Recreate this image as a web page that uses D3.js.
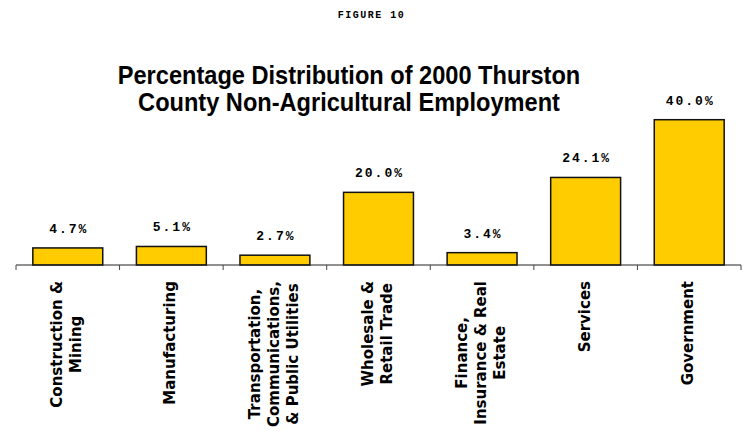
<!DOCTYPE html>
<html>
<head>
<meta charset="utf-8">
<script src="https://cdn.jsdelivr.net/npm/d3@7"></script>
<style>
  html, body { margin: 0; padding: 0; background: #fff; }
  svg { display: block; }
</style>
</head>
<body>
<svg id="chart" width="743" height="431"></svg>
<script>
// Employment shares by industry, Thurston County, 2000
const categories = [
  ["Construction &", "Mining"],
  ["Manufacturing"],
  ["Transportation,", "Communications,", "& Public Utilities"],
  ["Wholesale &", "Retail Trade"],
  ["Finance,", "Insurance & Real", "Estate"],
  ["Services"],
  ["Government"]
];
const shares = [4.7, 5.1, 2.7, 20.0, 3.4, 24.1, 40.0];
const figureLabel = "FIGURE 10";
const titleLines = [
  "Percentage Distribution of 2000 Thurston",
  "County Non-Agricultural Employment"
];

const svg = d3.select("#chart");
const keys = categories.map(c => c.join(" "));

const x = d3.scaleBand()
  .domain(keys)
  .range([16, 741])
  .paddingInner(0.325)
  .paddingOuter(0.1625);

const y = d3.scaleLinear()
  .domain([0, 40])
  .range([265, 119.7]);

// Header
svg.append("text")
  .attr("x", 371.5).attr("y", 18)
  .attr("text-anchor", "middle")
  .style("font-family", "'Liberation Mono', 'Courier New', monospace")
  .style("font-weight", "bold")
  .style("font-size", "10px")
  .style("letter-spacing", "1.5px")
  .text(figureLabel);

// Title, slightly condensed
svg.append("g")
  .attr("transform", "translate(349,0) scale(0.89,1)")
  .selectAll("text")
  .data(titleLines)
  .join("text")
  .attr("x", 0)
  .attr("y", (d, i) => 84 + i * 27)
  .attr("text-anchor", "middle")
  .style("font-family", "'Liberation Sans', Arial, sans-serif")
  .style("font-weight", "bold")
  .style("font-size", "26.5px")
  .style("fill", "#000")
  .text(d => d);

// Bars
svg.append("g")
  .selectAll("rect")
  .data(shares)
  .join("rect")
  .attr("x", (d, i) => x(keys[i]))
  .attr("y", d => y(d))
  .attr("width", x.bandwidth())
  .attr("height", d => y(0) - y(d))
  .attr("fill", "#FFCC00")
  .attr("stroke", "#111")
  .attr("stroke-width", 1.5);

// Value labels
svg.append("g")
  .selectAll("text")
  .data(shares)
  .join("text")
  .attr("x", (d, i) => x(keys[i]) + x.bandwidth() / 2 + 1)
  .attr("y", d => y(d) - 15)
  .attr("text-anchor", "middle")
  .style("font-family", "'Liberation Mono', 'Courier New', monospace")
  .style("font-weight", "bold")
  .style("font-size", "13px")
  .style("letter-spacing", "2px")
  .text(d => d3.format(".1f")(d) + "%");

// Category axis: baseline with ticks at band boundaries
const axisG = svg.append("g");
axisG.append("line")
  .attr("x1", 16).attr("x2", 741)
  .attr("y1", y(0)).attr("y2", y(0))
  .attr("stroke", "#222").attr("stroke-width", 1);

const step = x.step();
const boundaries = d3.range(keys.length + 1).map(i => x.range()[0] + i * step);
axisG.selectAll("line.tick")
  .data(boundaries)
  .join("line")
  .attr("class", "tick")
  .attr("x1", d => d).attr("x2", d => d)
  .attr("y1", y(0)).attr("y2", y(0) + 5)
  .attr("stroke", "#444").attr("stroke-width", 1);

// Rotated category labels, lines centred on each other
const lineGap = 19;
const labelTop = 281;
const labels = svg.append("g")
  .selectAll("g")
  .data(categories)
  .join("g")
  .attr("transform", (d, i) =>
    `translate(${x(keys[i]) + x.bandwidth() / 2 - 1.5},${labelTop}) rotate(-90)`);

labels.each(function(lines) {
  const g = d3.select(this);
  const n = lines.length;
  const texts = g.selectAll("text")
    .data(lines)
    .join("text")
    .attr("y", (d, j) => (j - (n - 1) / 2) * lineGap)
    .attr("dy", "0.36em")
    .attr("text-anchor", "middle")
    .style("font-family", "'DejaVu Sans', Verdana, sans-serif")
    .style("font-weight", "bold")
    .style("font-size", "15px")
    .text(d => d);
  let maxLen = 0;
  texts.each(function() { maxLen = Math.max(maxLen, this.getComputedTextLength()); });
  texts.attr("x", -maxLen / 2);
});
</script>
</body>
</html>
